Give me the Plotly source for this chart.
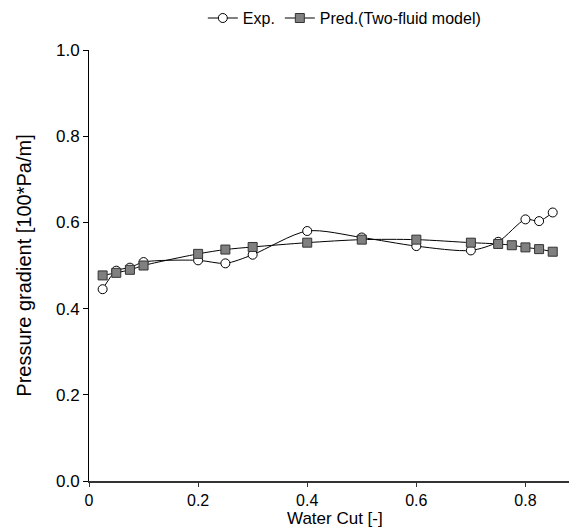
import plotly.graph_objects as go

exp_x = [0.025, 0.05, 0.075, 0.1, 0.2, 0.25, 0.3, 0.4, 0.5, 0.6, 0.7, 0.75, 0.8, 0.825, 0.85]
exp_y = [0.445, 0.488, 0.495, 0.508, 0.512, 0.505, 0.525, 0.580, 0.565, 0.545, 0.535, 0.555, 0.607, 0.603, 0.623]

pred_x = [0.025, 0.05, 0.075, 0.1, 0.2, 0.25, 0.3, 0.4, 0.5, 0.6, 0.7, 0.75, 0.775, 0.8, 0.825, 0.85]
pred_y = [0.477, 0.483, 0.490, 0.500, 0.527, 0.537, 0.543, 0.553, 0.560, 0.560, 0.553, 0.550, 0.547, 0.542, 0.538, 0.532]

x_ticks = [0, 0.2, 0.4, 0.6, 0.8]
x_ticktext = ["0", "0.2", "0.4", "0.6", "0.8"]
y_ticks = [0.0, 0.2, 0.4, 0.6, 0.8, 1.0]

fig = go.Figure()
fig.add_trace(go.Scatter(
    x=exp_x, y=exp_y, name="Exp.", mode="lines+markers",
    line=dict(color="black", width=1, shape="spline", smoothing=0.8),
    marker=dict(symbol="circle", size=9, color="white", line=dict(color="black", width=1)),
))
fig.add_trace(go.Scatter(
    x=pred_x, y=pred_y, name="Pred.(Two-fluid model)", mode="lines+markers",
    line=dict(color="black", width=1, shape="spline", smoothing=0.8),
    marker=dict(symbol="square", size=9, color="#808080", line=dict(color="#333333", width=1)),
))

fig.update_layout(
    width=577, height=529,
    margin=dict(l=81, r=5, t=42, b=56, autoexpand=False),
    paper_bgcolor="white", plot_bgcolor="white",
    font=dict(family="Liberation Sans, Arial, sans-serif", size=17, color="black"),
    showlegend=True,
    legend=dict(orientation="h", x=0.52, xanchor="center", y=1.074, yanchor="middle",
                font=dict(size=16), itemwidth=30, bgcolor="rgba(0,0,0,0)"),
    xaxis=dict(
        range=[0, 0.9], tickvals=x_ticks, ticktext=x_ticktext, automargin=False,
        showgrid=False, zeroline=False, showline=True, linecolor="#333333", linewidth=2,
        ticks="outside", ticklen=4, tickcolor="#333333", tickfont=dict(size=16),
    ),
    yaxis=dict(
        range=[0, 1.0], tickvals=y_ticks, tickformat=".1f", automargin=False,
        showgrid=False, zeroline=False, showline=True, linecolor="black", linewidth=1,
        ticks="outside", ticklen=5, tickcolor="black", tickfont=dict(size=17),
        title=dict(text="Pressure gradient [100*Pa/m]", font=dict(size=20), standoff=18),
    ),
    annotations=[dict(
        text="Water Cut [-]", xref="paper", yref="paper", x=0.5, y=-0.087,
        xanchor="center", yanchor="middle", showarrow=False, font=dict(size=17),
    )],
)

fig.write_html("out.html")
